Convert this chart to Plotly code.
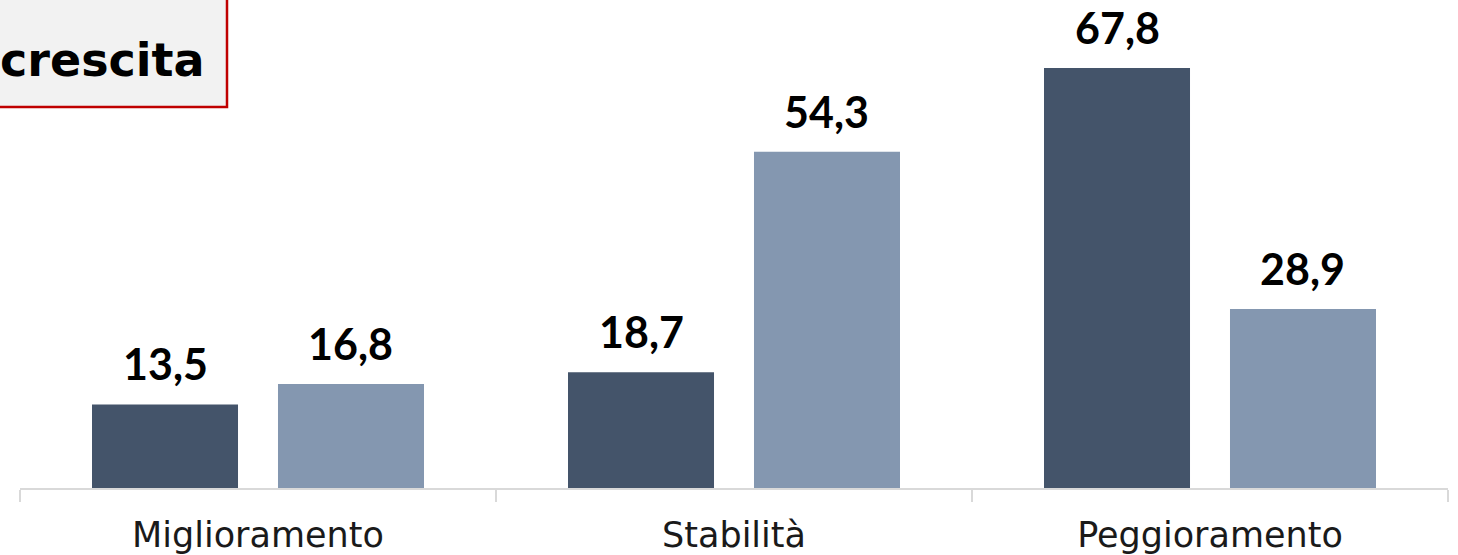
import plotly.graph_objects as go

categories = ["Miglioramento", "Stabilità", "Peggioramento"]
series_a = [13.5, 18.7, 67.8]
series_b = [16.8, 54.3, 28.9]
series_names = ["Serie 1", "Serie 2"]
box_label = "crescita"

dark = "#44546A"
light = "#8497B0"

fig = go.Figure()
fig.add_trace(go.Bar(x=categories, y=series_a, name=series_names[0],
                     marker=dict(color=dark, line=dict(width=0))))
fig.add_trace(go.Bar(x=categories, y=series_b, name=series_names[1],
                     marker=dict(color=light, line=dict(width=0))))

# value labels above each bar, offset to the bar centre within its group
def fmt(v):
    return f"{v:.1f}".replace(".", ",")

for vals, shift in ((series_a, -92.5), (series_b, 92.5)):
    for cat, v in zip(categories, vals):
        fig.add_annotation(x=cat, y=v, xref="x", yref="y", text=fmt(v),
                           showarrow=False, xshift=shift, yanchor="bottom", yshift=13,
                           font=dict(family="Lato", size=43, color="#000000", weight="bold"))

# title box at the top-left corner
fig.add_shape(type="rect", xref="paper", yref="paper",
              x0=-0.05, x1=(227 - 20) / 1428, y0=(488 - 107) / 488, y1=1.1,
              fillcolor="#F2F2F2", line=dict(color="#C00000", width=2.5), layer="above")
fig.add_annotation(xref="paper", yref="paper", x=(207 - 20) / 1428, y=(488 - 60) / 488,
                   xanchor="right", yanchor="middle", text=box_label, showarrow=False,
                   font=dict(family="DejaVu Sans", size=46, color="#000000", weight="bold"))

fig.update_layout(
    width=1458, height=555,
    margin=dict(l=20, r=10, t=0, b=67),
    paper_bgcolor="white", plot_bgcolor="white",
    barmode="group", bargap=0.2185, bargroupgap=0.215,
    showlegend=False,
    xaxis=dict(showline=True, linecolor="#D9D9D9", linewidth=1.5,
               ticks="outside", tickson="boundaries", ticklen=12, tickcolor="#D9D9D9",
               tickwidth=1.5, ticklabelstandoff=15,
               tickfont=dict(family="DejaVu Sans", size=35, color="#1A1A1A")),
    yaxis=dict(range=[0, 78.8], visible=False, showgrid=False, zeroline=False),
)

fig.write_html("out.html")
